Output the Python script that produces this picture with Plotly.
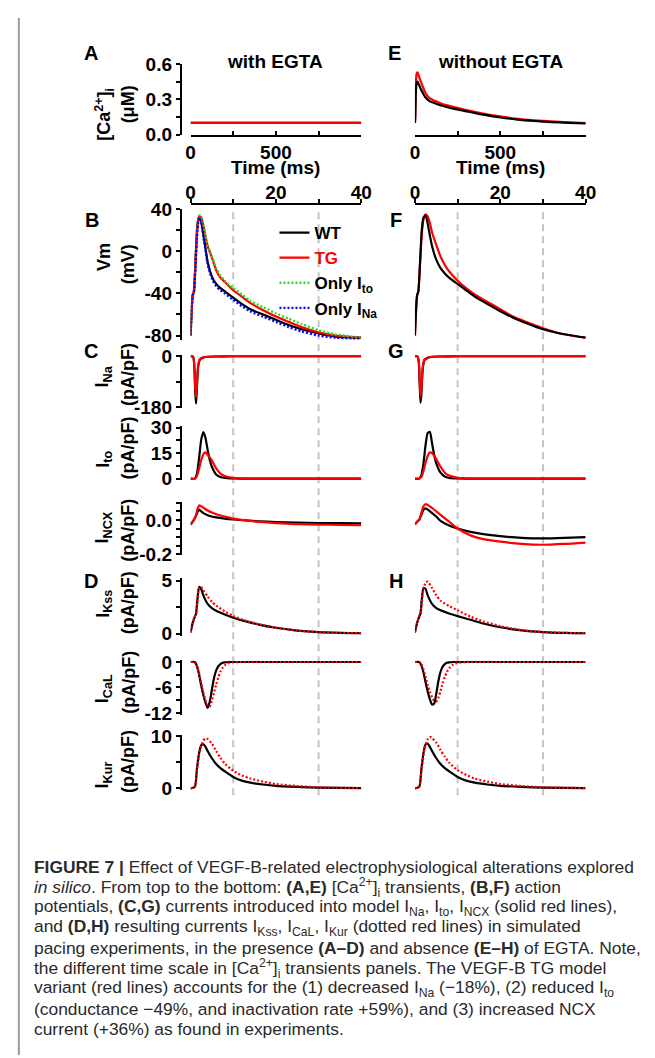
import plotly.graph_objects as go

FONT = "Liberation Sans, Arial, Helvetica, sans-serif"
W, H = 655, 1058

# ---------------- data ----------------
# [Ca2+]i transients (ms, uM)
t_ca_egta = [0, 1000]
ca_egta_wt = [0.1, 0.1]
ca_egta_tg = [0.1, 0.1]
t_ca = [0, 2, 5, 10, 15, 25, 40, 60, 85, 120, 160, 200, 260, 330, 400, 500, 600, 700, 800, 900, 1000]
ca_noegta_wt = [0.10, 0.15, 0.35, 0.44, 0.45, 0.42, 0.37, 0.32, 0.285, 0.265, 0.245, 0.23, 0.21, 0.19, 0.17, 0.146, 0.128, 0.116, 0.107, 0.10, 0.095]
ca_noegta_tg = [0.10, 0.17, 0.42, 0.52, 0.53, 0.49, 0.43, 0.36, 0.31, 0.285, 0.26, 0.245, 0.223, 0.20, 0.18, 0.155, 0.135, 0.122, 0.112, 0.104, 0.098]

# Action potentials (ms, mV)
t_vm = [0, 0.5, 0.8, 1.2, 1.6, 2.0, 2.5, 3.0, 3.5, 4, 5, 6, 7, 8, 10, 12, 14, 17, 20, 23, 26, 30, 34, 40]
vm_egta_wt = [-80, -42, -38, -5, 25, 33, 28, 16, 3, -10, -24, -31, -35, -38, -44, -50, -55, -60, -65, -70, -74, -78, -81, -82]
vm_egta_tg = [-80, -42, -38, -8, 22, 33, 32, 24, 14, 5, -6, -18, -25, -29, -37, -43, -49, -56, -62, -67, -72, -77, -80, -82]
vm_egta_ito = [-80, -42, -38, -6, 24, 34, 33, 25, 15, 6, -5, -16, -23, -28, -35, -41, -47, -53, -59, -64, -69, -75, -79, -82]
vm_egta_ina = [-80, -42, -38, -10, 20, 32, 27, 14, 1, -12, -26, -33, -37, -40, -46, -52, -57, -62, -67, -72, -76, -80, -82, -83]
vm_noegta_wt = [-80, -42, -38, -10, 20, 32, 34, 26, 15, 5, -8, -16, -21, -25, -31, -37, -43, -50, -57, -63, -68, -74, -78, -82]
vm_noegta_tg = [-80, -42, -38, -12, 16, 30, 35, 33, 27, 18, 6, -5, -13, -19, -28, -35, -41, -48, -55, -62, -67, -73, -78, -82]

# I_Na (pA/pF)
t_ina = [0, 0.6, 0.9, 1.1, 1.3, 1.5, 1.8, 2.2, 3, 4, 6, 10, 20, 40]
ina_egta_wt = [0, -2, -40, -130, -168, -110, -35, -12, -5, -2, -1, 0, 0, 0]
ina_egta_tg = [0, -2, -35, -110, -145, -95, -30, -10, -4, -2, -1, 0, 0, 0]
ina_noegta_wt = [0, -1, -20, -95, -165, -140, -50, -15, -6, -2, -1, 0, 0, 0]
ina_noegta_tg = [0, -1, -18, -80, -142, -120, -42, -12, -5, -2, -1, 0, 0, 0]

# I_to (pA/pF)
t_ito = [0, 1.0, 1.5, 2.0, 2.5, 3.0, 3.5, 4.0, 4.5, 5.0, 6.0, 7.0, 8.0, 10, 12, 20, 40]
ito_egta_wt = [0, 0, 3, 12, 23, 27.5, 24, 17, 11, 7, 2.5, 1, 0.4, 0.1, 0, 0, 0]
ito_egta_tg = [0, 0, 1.5, 6, 11, 14.5, 15.5, 14, 12.5, 10.8, 6, 3, 1.5, 0.4, 0.1, 0, 0]
ito_noegta_wt = [0, 0, 2, 9, 20, 27, 27.5, 21, 14, 9, 3.5, 1.3, 0.5, 0.1, 0, 0, 0]
ito_noegta_tg = [0, 0, 1, 4.5, 9.5, 13.5, 15.5, 15, 13.5, 11.5, 7, 3.5, 1.8, 0.5, 0.1, 0, 0]

# I_NCX (pA/pF)
t_ncx_egta = [0, 0.5, 1.0, 1.3, 1.6, 2.0, 2.5, 3, 4, 5, 6, 8, 10, 13, 16, 20, 25, 30, 35, 40]
ncx_egta_wt = [-0.025, -0.01, 0.01, 0.025, 0.045, 0.06, 0.05, 0.04, 0.028, 0.02, 0.015, 0.008, 0.003, -0.003, -0.008, -0.012, -0.016, -0.018, -0.019, -0.02]
ncx_egta_tg = [-0.028, -0.012, 0.012, 0.03, 0.06, 0.085, 0.08, 0.072, 0.055, 0.043, 0.033, 0.02, 0.008, -0.003, -0.011, -0.018, -0.024, -0.027, -0.029, -0.031]
t_ncx_noegta = [0, 0.5, 1.0, 1.5, 2.0, 2.5, 3, 4, 5, 6, 8, 10, 13, 16, 20, 25, 30, 35, 40]
ncx_noegta_wt = [-0.025, -0.01, 0.0, 0.03, 0.06, 0.068, 0.06, 0.04, 0.02, -0.005, -0.032, -0.05, -0.07, -0.083, -0.095, -0.105, -0.108, -0.105, -0.1]
ncx_noegta_tg = [-0.027, -0.01, 0.0, 0.04, 0.08, 0.092, 0.088, 0.07, 0.05, 0.03, -0.01, -0.05, -0.09, -0.112, -0.127, -0.14, -0.145, -0.14, -0.132]

# I_Kss (pA/pF)
t_kss = [0, 0.5, 1.0, 1.3, 1.6, 2.0, 2.5, 3, 4, 5, 6, 8, 10, 13, 16, 20, 25, 30, 35, 40]
kss_egta_wt = [0.1, 1.0, 1.6, 1.9, 3.2, 4.4, 4.2, 3.6, 2.8, 2.4, 2.15, 1.8, 1.5, 1.15, 0.85, 0.55, 0.28, 0.13, 0.06, 0.03]
kss_egta_tg = [0.1, 1.0, 1.6, 1.9, 3.0, 4.3, 4.4, 4.1, 3.5, 3.0, 2.65, 2.1, 1.65, 1.2, 0.88, 0.55, 0.28, 0.13, 0.06, 0.03]
kss_noegta_wt = [0.1, 1.0, 1.6, 1.9, 3.2, 4.3, 4.2, 3.6, 2.8, 2.4, 2.2, 1.9, 1.65, 1.3, 0.95, 0.6, 0.3, 0.14, 0.06, 0.03]
kss_noegta_tg = [0.1, 1.0, 1.6, 1.9, 2.9, 4.2, 4.8, 4.9, 4.3, 3.6, 3.1, 2.6, 2.2, 1.6, 1.15, 0.7, 0.33, 0.15, 0.07, 0.03]

# I_CaL (pA/pF)
t_cal = [0, 1.0, 1.5, 2.0, 2.5, 3.0, 3.5, 4.0, 4.5, 5.0, 5.5, 6.0, 6.5, 7.0, 7.5, 8.0, 9.0, 10, 12, 20, 40]
cal_egta_wt = [0, 0, -1.0, -3.0, -5.6, -7.8, -9.6, -10.8, -9.4, -6.5, -3.8, -2.0, -1.0, -0.5, -0.2, -0.1, 0, 0, 0, 0, 0]
cal_egta_tg = [0, 0, -0.8, -2.6, -5.0, -7.2, -9.0, -10.2, -10.5, -9.0, -7.2, -5.3, -3.6, -2.3, -1.4, -0.8, -0.25, -0.05, 0, 0, 0]
cal_noegta_wt = [0, 0, -0.8, -2.5, -4.8, -7.0, -8.8, -10.0, -9.8, -7.5, -4.5, -2.3, -1.1, -0.5, -0.2, -0.1, 0, 0, 0, 0, 0]
cal_noegta_tg = [0, 0, -0.5, -1.8, -3.6, -5.4, -7.0, -8.3, -9.1, -9.3, -8.4, -6.8, -5.0, -3.5, -2.3, -1.5, -0.6, -0.2, 0, 0, 0]

# I_Kur (pA/pF)
t_kur = [0, 1.0, 1.5, 2.0, 2.5, 3.0, 3.5, 4.0, 5, 6, 7, 8, 10, 12, 14, 17, 20, 25, 30, 40]
kur_egta_wt = [0, 0.3, 3.8, 6.8, 8.3, 8.5, 8.0, 7.2, 5.8, 4.7, 3.9, 3.3, 2.2, 1.5, 1.1, 0.75, 0.5, 0.3, 0.15, 0.05]
kur_egta_tg = [0, 0.3, 3.6, 6.5, 8.2, 9.2, 9.6, 9.5, 8.6, 7.2, 5.9, 4.8, 3.4, 2.5, 1.9, 1.3, 0.85, 0.45, 0.22, 0.06]
kur_noegta_wt = [0, 0.3, 3.6, 6.8, 8.5, 8.6, 8.0, 7.2, 5.8, 4.7, 3.9, 3.3, 2.2, 1.5, 1.1, 0.75, 0.5, 0.3, 0.15, 0.05]
kur_noegta_tg = [0, 0.3, 3.3, 6.4, 8.4, 9.5, 9.9, 9.7, 8.8, 7.4, 6.1, 5.0, 3.5, 2.6, 1.9, 1.3, 0.85, 0.45, 0.22, 0.06]

ca_ticks = [0, 0.3, 0.6]
vm_ticks = [-80, -40, 0, 40]
time_ticks_long = [0, 500, 1000]
time_ticks_short = [0, 10, 20, 30, 40]
grid_times = [10, 30]

# ---------------- helpers ----------------
def X(p):
    return p / W


def Y(p):
    return 1 - p / H


LEFT = (182, 357)
RIGHT = (412, 587)
BLACK, RED, GREEN, BLUE = "#000000", "#ff0000", "#22dd22", "#0000ff"

rows = [
    dict(rng=[0, 0.6], top=47, bot=119, tv=ca_ticks, tt=["0.0", "0.3", "0.6"], mv=[0.15, 0.45],
         t1="[Ca<sup>2+</sup>]<sub>i</sub>", t2="(μM)", c1=98, c2=88),
    dict(rng=[-84, 40], top=195, bot=328.3, tv=vm_ticks, tt=["-80", "-40", "0", "40"], mv=[-60, -20, 20],
         t1="Vm", t2="(mV)", c1=244, c2=251),
    dict(rng=[-185, 5], top=343.6, bot=398.4, tv=[-180, 0], tt=["-180", "0"], mv=[-90],
         t1="I<sub>Na</sub>", t2="(pA/pF)", c1=366, c2=364),
    dict(rng=[-1, 31], top=416.3, bot=471.7, tv=[0, 15, 30], tt=["0", "15", "30"], mv=[7.5, 22.5],
         t1="I<sub>to</sub>", t2="(pA/pF)", c1=450, c2=439),
    dict(rng=[-0.205, 0.105], top=493.8, bot=547.9, tv=[-0.2, -0.1, 0, 0.1], tt=["-0.2", "", "0.0", ""],
         mv=[-0.15, -0.05, 0.05], t1="I<sub>NCX</sub>", t2="(pA/pF)", c1=520, c2=523),
    dict(rng=[-0.2, 5.2], top=571.8, bot=630.2, tv=[0, 5], tt=["0", "5"], mv=[2.5],
         t1="I<sub>Kss</sub>", t2="(pA/pF)", c1=598, c2=597),
    dict(rng=[-12.4, 0.4], top=655.3, bot=710.7, tv=[-12, -6, 0], tt=["-12", "-6", "0"], mv=[-9, -3],
         t1="I<sub>CaL</sub>", t2="(pA/pF)", c1=684, c2=678),
    dict(rng=[-0.3, 10.3], top=731.4, bot=787.6, tv=[0, 10], tt=["0", "10"], mv=[5],
         t1="I<sub>Kur</sub>", t2="(pA/pF)", c1=772, c2=759),
]

TICKFONT = dict(family=FONT, size=19, color="black", weight="bold")
fig = go.Figure()


def ax(n):
    return ("x" if n == 1 else f"x{n}"), ("y" if n == 1 else f"y{n}")


def add(n, t, v, color, dash="solid", name=None, legend=False, width=2.2):
    xr, yr = ax(n)
    fig.add_trace(go.Scatter(
        x=t, y=v, mode="lines", xaxis=xr, yaxis=yr,
        line=dict(color=color, width=width, dash=dash, shape="spline", smoothing=0.6),
        name=name, showlegend=legend, hoverinfo="skip"))


DOT = "2px,2px"
# Column 1 (with EGTA)
add(1, t_ca_egta, ca_egta_wt, BLACK)
add(1, t_ca_egta, ca_egta_tg, RED)
add(2, t_vm, vm_egta_wt, BLACK, name="<b>WT</b>", legend=True)
add(2, t_vm, vm_egta_tg, RED, name="<b><span style='color:#ff0000'>TG</span></b>", legend=True)
add(2, t_vm, vm_egta_ito, GREEN, dash=DOT, name="<b>Only I<sub>to</sub></b>", legend=True, width=2.4)
add(2, t_vm, vm_egta_ina, BLUE, dash=DOT, name="<b>Only I<sub>Na</sub></b>", legend=True, width=2.4)
add(3, t_ina, ina_egta_wt, BLACK)
add(3, t_ina, ina_egta_tg, RED)
add(4, t_ito, ito_egta_wt, BLACK)
add(4, t_ito, ito_egta_tg, RED)
add(5, t_ncx_egta, ncx_egta_wt, BLACK)
add(5, t_ncx_egta, ncx_egta_tg, RED)
add(6, t_kss, kss_egta_wt, BLACK)
add(6, t_kss, kss_egta_tg, RED, dash=DOT)
add(7, t_cal, cal_egta_wt, BLACK)
add(7, t_cal, cal_egta_tg, RED, dash=DOT)
add(8, t_kur, kur_egta_wt, BLACK)
add(8, t_kur, kur_egta_tg, RED, dash=DOT)
# Column 2 (without EGTA)
add(9, t_ca, ca_noegta_tg, RED)
add(9, t_ca, ca_noegta_wt, BLACK)
add(10, t_vm, vm_noegta_tg, RED)
add(10, t_vm, vm_noegta_wt, BLACK)
add(11, t_ina, ina_noegta_wt, BLACK)
add(11, t_ina, ina_noegta_tg, RED)
add(12, t_ito, ito_noegta_wt, BLACK)
add(12, t_ito, ito_noegta_tg, RED)
add(13, t_ncx_noegta, ncx_noegta_wt, BLACK)
add(13, t_ncx_noegta, ncx_noegta_tg, RED)
add(14, t_kss, kss_noegta_wt, BLACK)
add(14, t_kss, kss_noegta_tg, RED, dash=DOT)
add(15, t_cal, cal_noegta_wt, BLACK)
add(15, t_cal, cal_noegta_tg, RED, dash=DOT)
add(16, t_kur, kur_noegta_wt, BLACK)
add(16, t_kur, kur_noegta_tg, RED, dash=DOT)

layout = dict(
    width=W, height=H, margin=dict(l=0, r=0, t=0, b=0),
    paper_bgcolor="white", plot_bgcolor="rgba(0,0,0,0)",
    font=dict(family=FONT, color="black"),
    showlegend=True,
    legend=dict(x=X(268), y=Y(201), xanchor="left", yanchor="top", bgcolor="rgba(0,0,0,0)",
                font=dict(family=FONT, size=17, color="black"), itemwidth=30, traceorder="normal"),
)

axis_common = dict(showgrid=False, zeroline=False, showline=True, linecolor="black", linewidth=2,
                   tickcolor="black", tickwidth=2, ticklen=4, tickfont=TICKFONT, fixedrange=True)

for i, r in enumerate(rows):
    for col, (xl, xr_) in enumerate([LEFT, RIGHT]):
        n = i + 1 + 8 * col
        xa = "xaxis" if n == 1 else f"xaxis{n}"
        ya = "yaxis" if n == 1 else f"yaxis{n}"
        xref, yref = ax(n)
        xd = dict(domain=[X(xl), X(xr_)], anchor=yref, range=[0, 40], visible=False, **axis_common)
        if i == 0:
            xd.update(range=[0, 1000], visible=True, side="bottom", ticks="inside",
                      tickvals=time_ticks_long, ticktext=["0", "500", ""],
                      minor=dict(tickvals=[250, 750], ticks="inside", ticklen=4, tickwidth=2, tickcolor="black"))
        elif i == 1:
            xd.update(range=[0, 40], visible=True, side="top", ticks="outside", anchor="free",
                      position=Y(190), tickvals=time_ticks_short, ticktext=["0", "", "20", "", "40"],
                      ticklabelstandoff=-7)
        layout[xa] = xd
        yd = dict(domain=[Y(r["bot"]), Y(r["top"])], range=r["rng"], anchor="free", position=X(172),
                  visible=(col == 0), ticks="outside", tickvals=r["tv"], ticktext=r["tt"],
                  minor=dict(tickvals=r["mv"], ticks="outside", ticklen=4, tickwidth=2, tickcolor="black"),
                  **axis_common)
        layout[ya] = yd

fig.update_layout(**layout)

# dashed vertical guide lines
for xref in ["x2", "x10"]:
    for gt in grid_times:
        fig.add_shape(type="line", xref=xref, yref="paper", x0=gt, x1=gt, y0=Y(793), y1=Y(193),
                      line=dict(color="#c4c4c4", width=2, dash="7px,5px"), layer="below")

# left grey border
fig.add_shape(type="line", xref="paper", yref="paper", x0=X(6), x1=X(6), y0=0, y1=1,
              line=dict(color="#9a9a9a", width=2))


def note(text, x, y, size=18, angle=0, xanchor="center", color="black", bold=True):
    fig.add_annotation(text=(f"<b>{text}</b>" if bold else text), x=X(x), y=Y(y), xref="paper", yref="paper",
                       showarrow=False, textangle=angle, xanchor=xanchor, yanchor="middle",
                       font=dict(family=FONT, size=size, color=color))


# y axis titles
for r in rows:
    note(r["t1"], 93, r["c1"], angle=-90)
    note(r["t2"], 118, r["c2"], angle=-90)

# panel letters
for lab, x, y in [("A", 80, 36), ("E", 391, 36), ("B", 81, 206), ("F", 393, 206),
                  ("C", 80, 340), ("G", 393, 340), ("D", 80, 574), ("H", 393, 574)]:
    note(lab, x, y, size=20)

# column titles and time labels
note("with EGTA", 269, 44, size=19)
note("without EGTA", 500, 44, size=19)
note("Time (ms)", 269, 153, size=19)
note("Time (ms)", 500, 153, size=19)

# caption
caption = [
    "<b>FIGURE 7 |</b> Effect of VEGF-B-related electrophysiological alterations explored",
    "<i>in silico</i>. From top to the bottom: <b>(A,E)</b> [Ca<sup>2+</sup>]<sub>i</sub> transients, <b>(B,F)</b> action",
    "potentials, <b>(C,G)</b> currents introduced into model I<sub>Na</sub>, I<sub>to</sub>, I<sub>NCX</sub> (solid red lines),",
    "and <b>(D,H)</b> resulting currents I<sub>Kss</sub>, I<sub>CaL</sub>, I<sub>Kur</sub> (dotted red lines) in simulated",
    "pacing experiments, in the presence <b>(A–D)</b> and absence <b>(E–H)</b> of EGTA. Note,",
    "the different time scale in [Ca<sup>2+</sup>]<sub>i</sub> transients panels. The VEGF-B TG model",
    "variant (red lines) accounts for the (1) decreased I<sub>Na</sub> (−18%), (2) reduced I<sub>to</sub>",
    "(conductance −49%, and inactivation rate +59%), and (3) increased NCX",
    "current (+36%) as found in experiments.",
]
for k, line in enumerate(caption):
    note(line, 19, 866 + 20.7 * k, size=17.4, xanchor="left", color="#2a2a2a", bold=False)

fig.write_html("out.html")
